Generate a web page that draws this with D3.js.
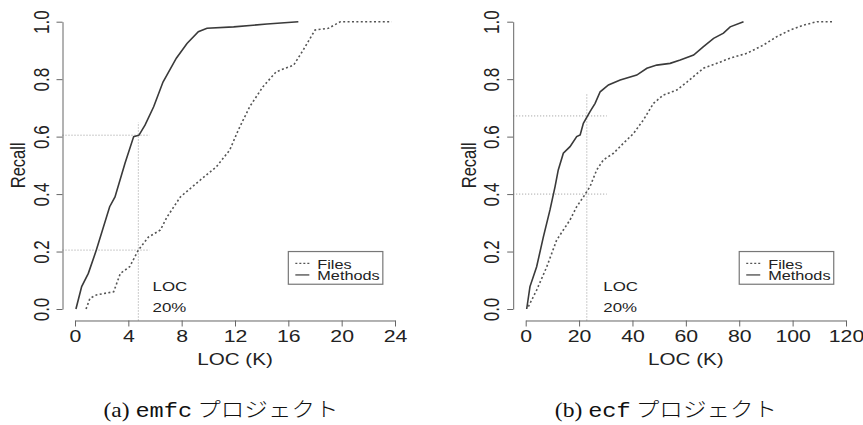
<!DOCTYPE html>
<html>
<head>
<meta charset="utf-8">
<script src="https://cdn.jsdelivr.net/npm/d3@7"></script>
<style>
  body { margin: 0; background: #fff; }
  svg { display: block; }
  .tick text, .lbl { font-family: "Liberation Sans", Arial, sans-serif; fill: #222; }
</style>
</head>
<body>
<svg id="chart" width="863" height="425"></svg>
<script>
// recall vs LOC (K) — two projects, Files (dotted) vs Methods (solid)

// --- data: (a) emfc ---
const emfcMethodsX = [0.07, 0.5, 1.0, 1.6, 2.6, 3.0, 3.75, 4.4, 4.8, 5.25, 5.9, 6.6, 7.6, 8.4, 9.25, 9.9, 11.9, 14.4, 16.75];
const emfcMethodsY = [0.0, 0.078, 0.124, 0.205, 0.356, 0.39, 0.507, 0.60, 0.605, 0.64, 0.704, 0.79, 0.873, 0.924, 0.965, 0.977, 0.982, 0.992, 1.0];
const emfcFilesX = [0.83, 1.12, 1.6, 2.9, 3.4, 4.1, 4.75, 5.5, 6.4, 6.9, 7.9, 9.4, 10.6, 11.6, 12.25, 13.1, 14.1, 15.1, 16.4, 17.1, 18.0, 19.0, 19.9, 23.75];
const emfcFilesY = [0.0, 0.037, 0.049, 0.06, 0.124, 0.147, 0.205, 0.25, 0.275, 0.32, 0.39, 0.449, 0.495, 0.553, 0.623, 0.704, 0.774, 0.826, 0.849, 0.90, 0.971, 0.977, 1.0, 1.0];

// --- data: (b) ecf ---
const ecfMethodsX = [0.37, 1.6, 4.1, 6.6, 9.1, 11.0, 12.2, 14.1, 16.6, 19.1, 20.4, 21.6, 24.1, 26.0, 27.9, 31.0, 35.4, 41.6, 45.4, 49.1, 54.1, 57.9, 62.9, 66.6, 70.4, 74.1, 76.6, 81.6];
const ecfMethodsY = [0.0, 0.078, 0.147, 0.25, 0.345, 0.426, 0.484, 0.542, 0.565, 0.60, 0.606, 0.646, 0.687, 0.716, 0.756, 0.78, 0.797, 0.814, 0.838, 0.849, 0.855, 0.867, 0.884, 0.913, 0.942, 0.96, 0.982, 1.0];
const ecfFilesX = [1.0, 4.1, 7.9, 11.6, 14.1, 16.6, 19.1, 21.6, 24.1, 26.6, 29.1, 32.9, 36.6, 40.4, 44.1, 47.9, 51.6, 56.6, 60.4, 66.6, 71.6, 76.6, 82.9, 89.1, 94.1, 99.1, 104.1, 109.1, 114.8];
const ecfFilesY = [0.008, 0.066, 0.147, 0.24, 0.275, 0.31, 0.356, 0.39, 0.426, 0.484, 0.519, 0.542, 0.577, 0.611, 0.658, 0.716, 0.745, 0.762, 0.79, 0.838, 0.855, 0.873, 0.89, 0.919, 0.948, 0.971, 0.988, 1.0, 1.0];

// 20% LOC cut: [loc, recall methods, recall files, top of vertical, end of horizontals]
const emfcCut = [4.75, 0.605, 0.205, 0.65, 5.6];
const ecfCut = [22.9, 0.672, 0.40, 0.75, 30.4];

const emfcTicks = [0, 4, 8, 12, 16, 20, 24];
const ecfTicks = [0, 20, 40, 60, 80, 100, 120];
const recallTicks = [0, 0.2, 0.4, 0.6, 0.8, 1.0];
const legendLabels = ['Files', 'Methods'];

const svg = d3.select('#chart');
const y = d3.scaleLinear().domain([0, 1]).range([309, 21.7]);
const STRETCH = 'scale(1.25,1)';

function panel(cfg) {
  const x = d3.scaleLinear().domain([0, cfg.ticks[cfg.ticks.length - 1]]).range(cfg.range);
  const g = svg.append('g');
  const axisX = cfg.range[0] - 12.5;   // R style 4% gap
  const axisY = y(-0.04);

  // reference lines
  const ref = g.append('g').attr('stroke', '#999').attr('stroke-width', 1)
    .attr('stroke-dasharray', '1,2').attr('fill', 'none');
  const c = cfg.cut;
  ref.append('line').attr('x1', x(c[0])).attr('x2', x(c[0])).attr('y1', axisY).attr('y2', y(c[3]));
  [c[1], c[2]].forEach(v => {
    ref.append('line').attr('x1', axisX).attr('x2', x(c[4])).attr('y1', y(v)).attr('y2', y(v));
  });

  // curves
  const line = d3.line().x(d => x(d[0])).y(d => y(d[1]));
  g.append('path').datum(d3.zip(cfg.filesX, cfg.filesY)).attr('d', line)
    .attr('fill', 'none').attr('stroke', '#555').attr('stroke-width', 1.6).attr('stroke-dasharray', '2,2.4');
  g.append('path').datum(d3.zip(cfg.methodsX, cfg.methodsY)).attr('d', line)
    .attr('fill', 'none').attr('stroke', '#3a3a3a').attr('stroke-width', 1.6);

  // axes
  const ya = g.append('g').attr('transform', `translate(${axisX},0)`)
    .call(d3.axisLeft(y).tickValues(recallTicks).tickFormat(d3.format('.1f')).tickSize(6).tickSizeOuter(0));
  ya.selectAll('text').attr('x', null).attr('dy', null).attr('text-anchor', 'middle')
    .attr('transform', `translate(-14,0) ${STRETCH} rotate(-90)`);
  const xa = g.append('g').attr('transform', `translate(0,${axisY})`)
    .call(d3.axisBottom(x).tickValues(cfg.ticks).tickSize(6).tickSizeOuter(0));
  xa.selectAll('text').attr('y', null).attr('dy', null)
    .attr('transform', `translate(0,21.5) ${STRETCH}`);
  [ya, xa].forEach(a => {
    a.attr('font-size', 17).attr('font-family', null);
    a.selectAll('path, line').attr('stroke', '#666');
  });

  // axis titles
  const mid = (cfg.range[0] + cfg.range[1]) / 2;
  g.append('text').attr('class', 'lbl').attr('font-size', 16.5).attr('text-anchor', 'middle')
    .attr('transform', `translate(${mid},365) ${STRETCH}`).text('LOC (K)');
  g.append('text').attr('class', 'lbl').attr('font-size', 16.5).attr('text-anchor', 'middle')
    .attr('transform', `translate(${axisX - 37.5},${y(0.5)}) ${STRETCH} rotate(-90)`).text('Recall');

  // LOC 20% note
  const nx = x(cfg.ticks[cfg.ticks.length - 1] * 0.2425);
  ['LOC', '20%'].forEach((t, i) => {
    g.append('text').attr('class', 'lbl').attr('font-size', 13.5)
      .attr('transform', `translate(${nx},${290.7 + i * 21}) ${STRETCH}`).text(t);
  });

  // legend
  const lx = x(cfg.ticks[cfg.ticks.length - 1] * 2 / 3), ly = y(0.2);
  const lg = g.append('g').attr('transform', `translate(${lx},${ly})`);
  lg.append('rect').attr('width', 94.5).attr('height', 32.7)
    .attr('fill', '#fff').attr('stroke', '#777').attr('stroke-width', 1.2);
  legendLabels.forEach((t, i) => {
    lg.append('line').attr('x1', 7).attr('x2', 21).attr('y1', 11.8 + i * 11.6).attr('y2', 11.8 + i * 11.6)
      .attr('stroke', i ? '#3a3a3a' : '#555').attr('stroke-width', 1.2)
      .attr('stroke-dasharray', i ? null : '2,2');
    lg.append('text').attr('class', 'lbl').attr('font-size', 13)
      .attr('transform', `translate(29,${17.3 + i * 11.4}) ${STRETCH}`).text(t);
  });

  // caption
  const cap = svg.append('text').attr('text-anchor', 'middle')
    .attr('transform', `translate(${cfg.capX},417) scale(1.15,1)`)
    .attr('font-size', 20.5).attr('fill', '#111');
  cap.append('tspan').attr('font-family', '"Liberation Serif", serif').text(cfg.capTag + ' ');
  cap.append('tspan').attr('font-family', '"Liberation Mono", monospace').text(cfg.project);
  cap.append('tspan').attr('font-family', '"Noto Sans CJK JP", sans-serif').attr('font-weight', 300).text(' プロジェクト');
}

panel({ ticks: emfcTicks, range: [75, 395], methodsX: emfcMethodsX, methodsY: emfcMethodsY,
  filesX: emfcFilesX, filesY: emfcFilesY, cut: emfcCut, capX: 221, capTag: '(a)', project: 'emfc' });
panel({ ticks: ecfTicks, range: [525.7, 846], methodsX: ecfMethodsX, methodsY: ecfMethodsY,
  filesX: ecfFilesX, filesY: ecfFilesY, cut: ecfCut, capX: 666, capTag: '(b)', project: 'ecf' });
</script>
</body>
</html>
